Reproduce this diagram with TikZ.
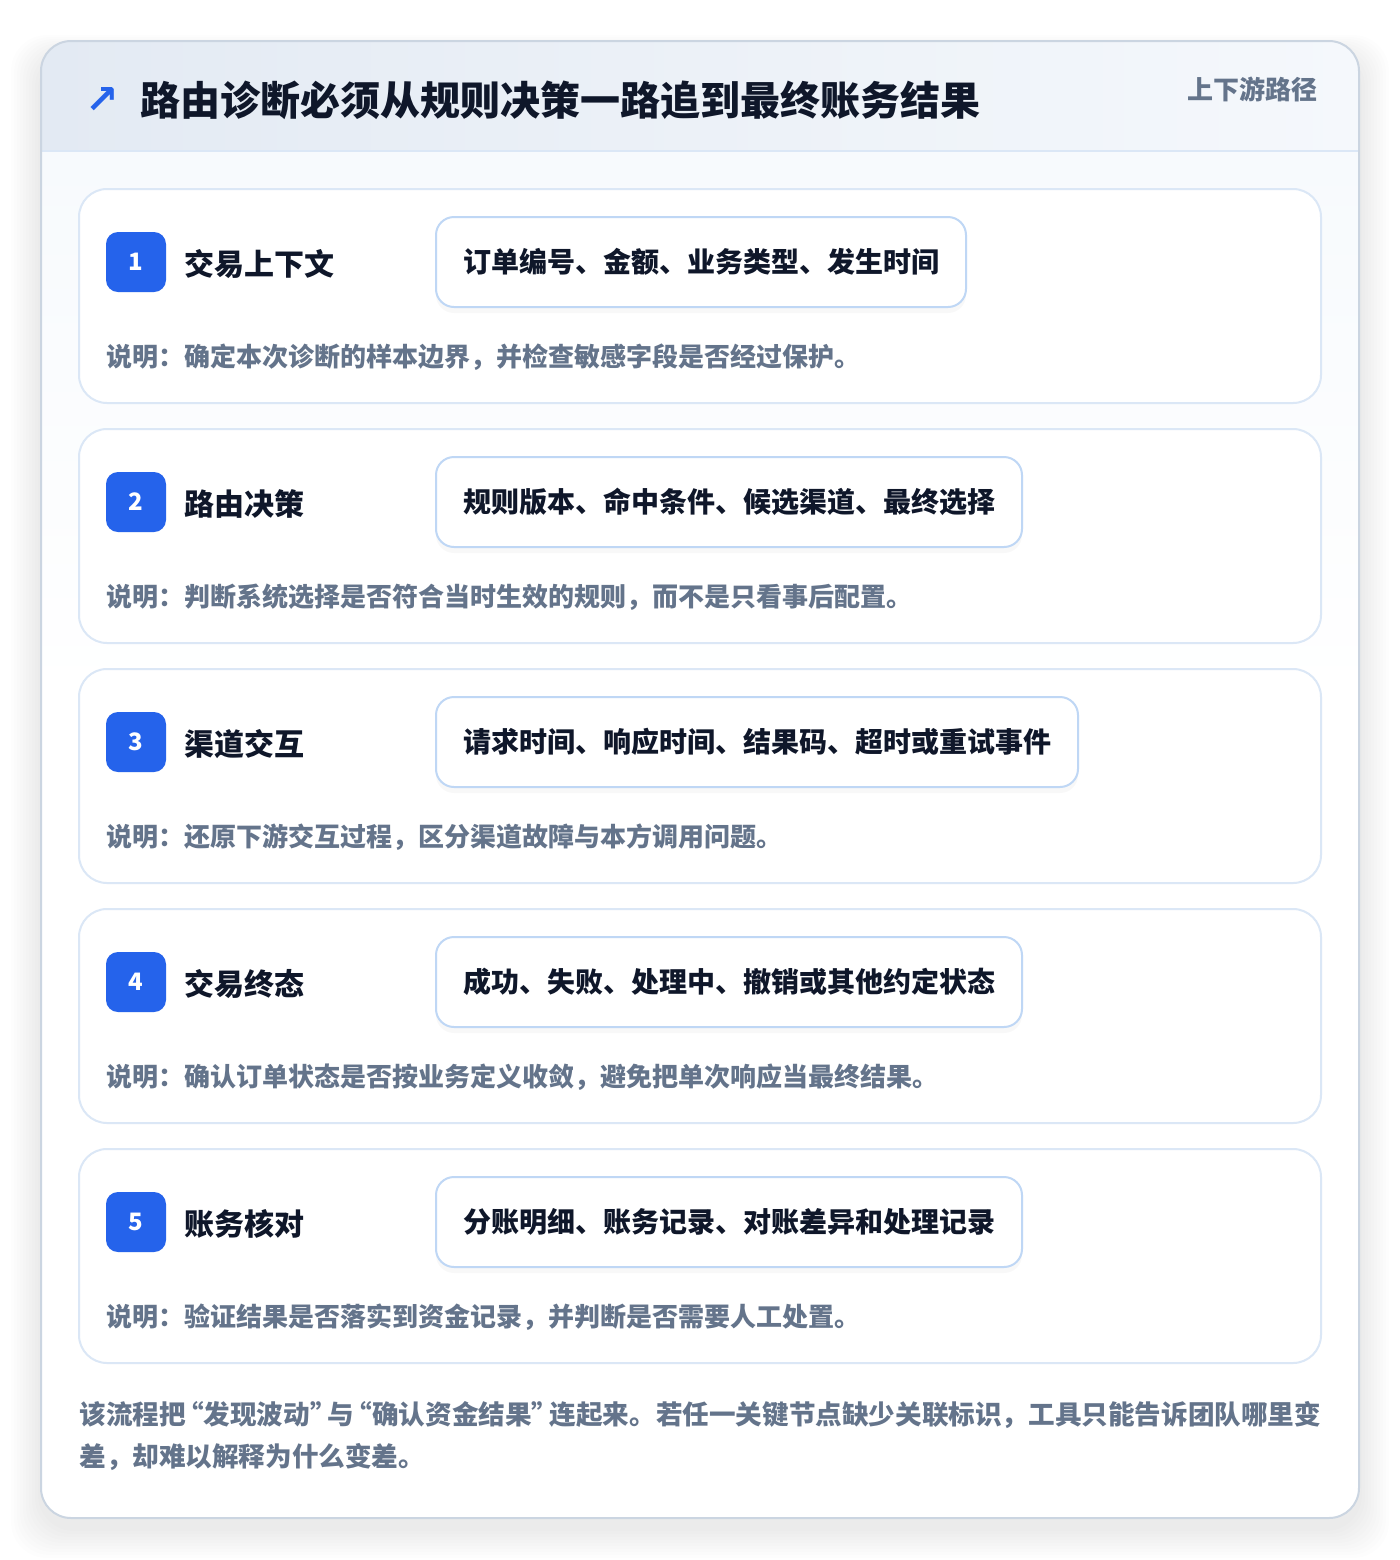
\documentclass[tikz,border=0pt]{standalone}
\usepackage{fontspec}
\setmainfont{Noto Sans CJK SC}
\newfontfamily\symfont{DejaVu Sans}
\usetikzlibrary{positioning,calc,shadows}
\definecolor{badgeblue}{RGB}{37,99,235}
\definecolor{inkdark}{RGB}{15,23,42}
\definecolor{inkgray}{RGB}{100,116,139}
\definecolor{cardline}{RGB}{219,231,246}
\definecolor{pillline}{RGB}{191,215,245}
\definecolor{frameline}{RGB}{203,213,225}
\definecolor{headleft}{RGB}{227,234,243}
\definecolor{headright}{RGB}{245,248,252}
\definecolor{bodytop}{RGB}{247,250,253}
\newcommand{\openq}{\kern-0.33em“}
\newcommand{\closeq}{”\kern-0.33em}

\begin{document}
\begin{tikzpicture}[x=0.5pt,y=-0.5pt,
	stepcard/.style={draw=cardline, line width=1pt, fill=white, rounded corners=14pt},
	badge/.style={fill=badgeblue, rounded corners=6pt, minimum size=30pt, inner sep=0pt, text=white, font=\bfseries\fontsize{12}{14}\selectfont},
	steplabel/.style={anchor=west, inner sep=0pt, text=inkdark, font=\bfseries\fontsize{15}{18}\selectfont},
	pill/.style={draw=pillline, line width=1pt, fill=white, rounded corners=9pt, minimum height=45pt, inner xsep=13.5pt, anchor=west, text=inkdark, font=\bfseries\fontsize{14}{17}\selectfont, drop shadow={opacity=0.05, shadow xshift=0pt, shadow yshift=-3pt}},
	note/.style={anchor=west, inner sep=0pt, text=inkgray, font=\bfseries\fontsize{13}{16}\selectfont}]
				\useasboundingbox (0,0) rectangle (1400,1560);
				\fill[white] (0,0) rectangle (1400,1560);
				% soft shadow of the frame
				\foreach \k in {1,...,10}
					\fill[black, opacity=0.008, rounded corners=18pt] (41-3*\k,55-2*\k) rectangle (1359+3*\k,1528+3*\k);
				% frame with header band
				\begin{scope}
					\clip[rounded corners=15pt] (41,41) rectangle (1359,1518);
					\shade[left color=headleft, right color=headright] (41,41) rectangle (1359,151);
					\shade[top color=bodytop, bottom color=white] (41,151) rectangle (1359,700);
					\fill[white] (41,700) rectangle (1359,1518);
				\end{scope}
				\draw[cardline, line width=1pt] (41,151) -- (1359,151);
				\draw[frameline, line width=1pt, rounded corners=15pt] (41,41) rectangle (1359,1518);
				% header
				\node[text=badgeblue, inner sep=0pt, font=\symfont\bfseries\fontsize{20}{20}\selectfont] (icon) at (102,100) {↗};
				\node[anchor=west, inner sep=0pt, text=inkdark, font=\bfseries\fontsize{20}{24}\selectfont] (title) at (140,100) {路由诊断必须从规则决策一路追到最终账务结果};
				\node[anchor=east, inner sep=0pt, text=inkgray, font=\bfseries\fontsize{13}{16}\selectfont] (tag) at (1318,89) {上下游路径};
				% steps
				\foreach \n/\lab/\info/\desc [count=\i from 0] in {
					1/交易上下文/订单编号、金额、业务类型、发生时间/确定本次诊断的样本边界，并检查敏感字段是否经过保护。,
					2/路由决策/规则版本、命中条件、候选渠道、最终选择/判断系统选择是否符合当时生效的规则，而不是只看事后配置。,
					3/渠道交互/请求时间、响应时间、结果码、超时或重试事件/还原下游交互过程，区分渠道故障与本方调用问题。,
					4/交易终态/成功、失败、处理中、撤销或其他约定状态/确认订单状态是否按业务定义收敛，避免把单次响应当最终结果。,
					5/账务核对/分账明细、账务记录、对账差异和处理记录/验证结果是否落实到资金记录，并判断是否需要人工处置。}{
					\pgfmathsetmacro{\ytop}{189+240*\i}
					\draw[stepcard] (79,\ytop) rectangle (1321,\ytop+214);
					\node[badge] (badge\n) at (136,\ytop+73) {\n};
					\node[steplabel] (label\n) at (184,\ytop+75) {\lab};
					\node[pill] (pill\n) at (435,\ytop+73) {\info};
					\node[note] (note\n) at (106,\ytop+168) {说明：\desc};
				}
				% closing remark
				\node[anchor=north west, align=left, inner sep=0pt, text=inkgray, font=\bfseries\fontsize{13.3}{21}\selectfont] (summary) at (79,1401) {该流程把\openq 发现波动\closeq 与\openq 确认资金结果\closeq 连起来。若任一关键节点缺少关联标识，工具只能告诉团队哪里变\\差，却难以解释为什么变差。};
			\end{tikzpicture}
\end{document}
